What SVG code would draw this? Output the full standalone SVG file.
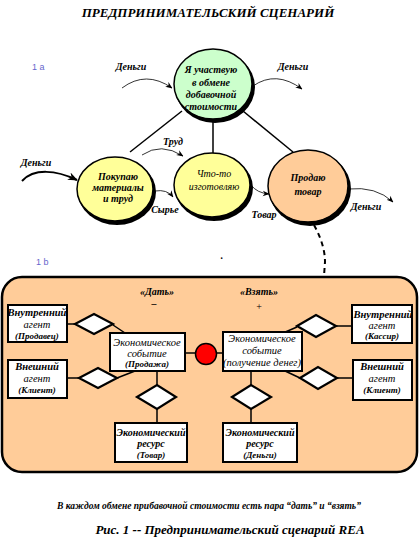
<svg xmlns="http://www.w3.org/2000/svg" width="420" height="540" viewBox="0 0 420 540" font-family="'Liberation Serif', 'Times New Roman', serif">
<defs>
<marker id="ah" viewBox="0 0 10 10" refX="9" refY="5" markerWidth="7" markerHeight="7" markerUnits="userSpaceOnUse" orient="auto">
<path d="M0,1 L10,5 L0,9 L3,5 Z" fill="#000"/>
</marker>
<marker id="ahb" viewBox="0 0 10 10" refX="9" refY="5" markerWidth="5" markerHeight="5" orient="auto">
<path d="M0,1 L10,5 L0,9 L3,5 Z" fill="#000"/>
</marker>
</defs>
<style>
text{font-family:'Liberation Serif','Times New Roman',serif;font-style:italic;font-weight:bold;text-anchor:middle;fill:#000}
.t{font-size:10px}
.b{font-size:10.5px}
.r{font-size:10px}
.n{font-weight:normal}
.s{font-size:9px}
.lbl{font-size:9px;font-family:'Liberation Sans',Arial,sans-serif;font-style:normal;font-weight:normal;fill:#6666cc;text-anchor:start}
.sh{fill:#000}
.el{stroke:#000;stroke-width:1.5}
.box{fill:#fff;stroke:#000;stroke-width:2}
.dia{fill:#fff;stroke:#000;stroke-width:2.2}
.ln{fill:none;stroke:#000;stroke-width:1.5}
.cv{fill:none;stroke:#000;stroke-width:0.8}
</style>
<text x="208" y="17" style="font-size:13px">ПРЕДПРИНИМАТЕЛЬСКИЙ СЦЕНАРИЙ</text>
<text class="lbl" x="32" y="70">1 a</text>
<text class="lbl" x="36" y="265">1 b</text>

<g id="connectors">
<line class="ln" x1="182" y1="111" x2="130" y2="152"/>
<line class="ln" x1="213" y1="119" x2="213" y2="153"/>
<line class="ln" x1="243" y1="111" x2="293" y2="152"/>
<path class="cv" d="M122,88 Q146,70 172,88" marker-end="url(#ah)"/>
<path class="cv" d="M253,86 Q276,70 302,89" marker-end="url(#ah)"/>
<path fill="none" stroke="#000" stroke-width="2" d="M22,181 C34,168 56,170 77,180" marker-end="url(#ahb)"/>
<path class="cv" d="M142,155 Q161,142 183,156" marker-end="url(#ah)"/>
<path class="cv" d="M155,191 Q167,189 173,197" marker-end="url(#ah)"/>
<path class="cv" d="M251,185 Q257,193 269,194" marker-end="url(#ah)"/>
<path class="cv" d="M348,189 Q376,186 393,202" marker-end="url(#ah)"/>
<path fill="none" stroke="#000" stroke-width="2" stroke-dasharray="5,4" d="M314,225 Q325,245 325,262 L324,276"/>
</g>

<g id="n-participate">
<ellipse class="sh" cx="215" cy="87" rx="40" ry="36"/>
<ellipse class="el" cx="213" cy="84" rx="39" ry="35" fill="#ccffcc"/>
<text class="t" x="211" y="73">Я участвую</text>
<text class="t" x="211" y="86">в обмене</text>
<text class="t" x="211" y="98">добавочной</text>
<text class="t" x="211" y="110">стоимости</text>
</g>
<g id="n-buy">
<ellipse class="sh" cx="117" cy="192" rx="39" ry="33"/>
<ellipse class="el" cx="115" cy="189" rx="38" ry="32" fill="#ffff99"/>
<text class="t" x="118" y="180">Покупаю</text>
<text class="t" x="118" y="191">материалы</text>
<text class="t" x="118" y="202">и труд</text>
</g>
<g id="n-make">
<ellipse class="sh" cx="214" cy="188" rx="39" ry="33"/>
<ellipse class="el" cx="212" cy="185" rx="38" ry="32" fill="#ffff99"/>
<text class="t n" x="214" y="177">Что-то</text>
<text class="t n" x="214" y="190">изготовляю</text>
</g>
<g id="n-sell">
<ellipse class="sh" cx="310" cy="189" rx="41" ry="37"/>
<ellipse class="el" cx="308" cy="186" rx="40" ry="36" fill="#ffcc99"/>
<text class="t" x="308" y="181">Продаю</text>
<text class="t" x="308" y="195">товар</text>
</g>
<g id="labels-a">
<text class="t" x="131" y="70">Деньги</text>
<text class="t" x="293" y="70">Деньги</text>
<text class="t" x="36" y="166">Деньги</text>
<text class="t" x="173" y="145">Труд</text>
<text class="t" x="165" y="213">Сырье</text>
<text class="t" x="264" y="218">Товар</text>
<text class="t" x="366" y="210">Деньги</text>
<text class="t" x="222" y="259">.</text>
</g>

<g id="rea-frame">
<rect x="2" y="277" width="415" height="195" rx="20" ry="20" fill="#ffcc99" stroke="#000" stroke-width="2.5"/>
<text class="t" x="157" y="295">«Дать»</text>
<text class="t" x="154" y="307">–</text>
<text class="t" x="259" y="295">«Взять»</text>
<text class="t n" x="259" y="310" style="font-style:normal">+</text>
</g>

<g id="rea-connectors">
<line class="ln" x1="67" y1="324" x2="75" y2="324"/>
<line class="ln" x1="113" y1="325" x2="125" y2="333"/>
<line class="ln" x1="67" y1="378" x2="79" y2="378"/>
<line class="ln" x1="117" y1="378" x2="135" y2="371"/>
<line class="ln" x1="185" y1="353" x2="224" y2="353"/>
<line class="ln" x1="283" y1="333" x2="297" y2="327"/>
<line class="ln" x1="336" y1="326" x2="352" y2="326"/>
<line class="ln" x1="283" y1="370" x2="300" y2="378"/>
<line class="ln" x1="337" y1="378" x2="353" y2="378"/>
<line class="ln" x1="157" y1="371" x2="157" y2="423"/>
<line class="ln" x1="251" y1="371" x2="251" y2="423"/>
</g>

<g id="agent-int-left">
<rect class="box" x="8" y="305" width="59" height="37"/>
<text class="b" x="37" y="316">Внутренний</text>
<text class="b n" x="37" y="328">агент</text>
<text class="s" x="37" y="339">(Продавец)</text>
</g>
<g id="agent-ext-left">
<rect class="box" x="8" y="360" width="59" height="38"/>
<text class="b" x="37" y="370">Внешний</text>
<text class="b n" x="37" y="382">агент</text>
<text class="s" x="37" y="393">(Клиент)</text>
</g>
<g id="dia-l1"><polygon class="dia" points="75,324 94,314 113,324 94,334"/></g>
<g id="dia-l2"><polygon class="dia" points="79,378 98,368 117,378 98,388"/></g>
<g id="event-sale">
<rect class="box" x="110" y="333" width="75" height="38"/>
<text class="b n" x="147" y="346">Экономическое</text>
<text class="b n" x="147" y="357">событие</text>
<text class="s" x="147" y="367">(Продажа)</text>
</g>
<g id="dual">
<circle cx="206" cy="354" r="10.5" fill="#ff0000" stroke="#000" stroke-width="1.5"/>
</g>
<g id="event-money">
<rect class="box" x="223" y="332" width="79" height="39"/>
<text class="b n" x="262" y="342">Экономическое</text>
<text class="b n" x="262" y="354">событие</text>
<text class="b n" x="262" y="366">(получение денег)</text>
</g>
<g id="dia-r1"><polygon class="dia" points="297,326 316,315 336,326 316,337"/></g>
<g id="dia-r2"><polygon class="dia" points="300,378 318,367 337,378 318,389"/></g>
<g id="agent-int-right">
<rect class="box" x="352" y="305" width="60" height="38"/>
<text class="b" x="383" y="318">Внутренний</text>
<text class="b n" x="382" y="329">агент</text>
<text class="s" x="382" y="339">(Кассир)</text>
</g>
<g id="agent-ext-right">
<rect class="box" x="353" y="360" width="59" height="40"/>
<text class="b" x="382" y="370">Внешний</text>
<text class="b n" x="382" y="382">агент</text>
<text class="s" x="382" y="393">(Клиент)</text>
</g>
<g id="dia-b1"><polygon class="dia" points="137,397 157,385 176,397 157,409"/></g>
<g id="dia-b2"><polygon class="dia" points="232,397 251,385 271,397 251,409"/></g>
<g id="res-goods">
<rect class="box" x="115" y="423" width="72" height="39"/>
<text class="r" x="151" y="436">Экономический</text>
<text class="r" x="151" y="447">ресурс</text>
<text class="s" x="151" y="458">(Товар)</text>
</g>
<g id="res-money">
<rect class="box" x="223" y="423" width="74" height="39"/>
<text class="r" x="260" y="436">Экономический</text>
<text class="r" x="260" y="447">ресурс</text>
<text class="s" x="260" y="458">(Деньги)</text>
</g>

<text x="209" y="509" style="font-size:9.5px">В каждом обмене прибавочной стоимости есть пара “дать” и “взять”</text>
<text x="230" y="534" style="font-size:13px">Рис. 1 -- Предпринимательский сценарий REA</text>
</svg>
